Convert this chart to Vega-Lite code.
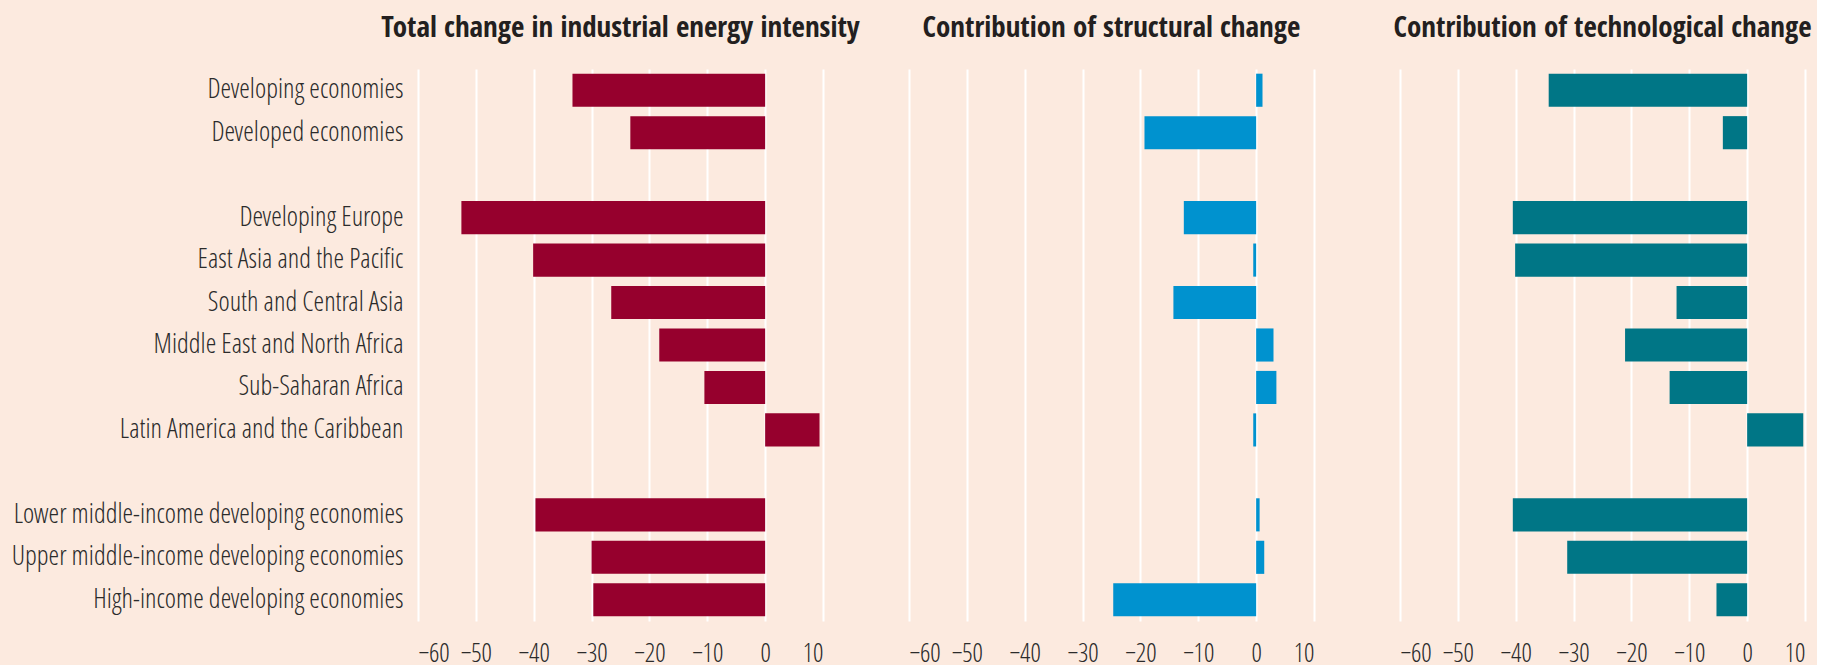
{
  "$schema": "https://vega.github.io/schema/vega-lite/v6.json",
  "background": "#FCEADF",
  "padding": {"left": 11, "top": 14, "right": 5, "bottom": 0},
  "bounds": "flush",
  "spacing": 86,
  "config": {
    "view": {"stroke": null},
    "title": {"font": "Open Sans Condensed", "fontSize": 29, "fontWeight": "bold", "color": "#231F20", "offset": 26, "anchor": "middle"},
    "axis": {
      "labelFont": "Open Sans Condensed Light", "labelFontWeight": 300, "labelColor": "#2B2B2B",
      "domain": false, "ticks": false, "title": null, "labelOverlap": false
    }
  },
  "data": {
    "values": [
      {"region": "Developing economies", "total": -33.3, "structural": 1.1, "technological": -34.3},
      {"region": "Developed economies", "total": -23.3, "structural": -19.3, "technological": -4.2},
      {"region": "Developing Europe", "total": -52.5, "structural": -12.5, "technological": -40.5},
      {"region": "East Asia and the Pacific", "total": -40.1, "structural": -0.5, "technological": -40.1},
      {"region": "South and Central Asia", "total": -26.6, "structural": -14.3, "technological": -12.2},
      {"region": "Middle East and North Africa", "total": -18.3, "structural": 3.0, "technological": -21.1},
      {"region": "Sub-Saharan Africa", "total": -10.5, "structural": 3.5, "technological": -13.4},
      {"region": "Latin America and the Caribbean", "total": 9.4, "structural": -0.5, "technological": 9.7},
      {"region": "Lower middle-income developing economies", "total": -39.7, "structural": 0.6, "technological": -40.5},
      {"region": "Upper middle-income developing economies", "total": -30.0, "structural": 1.4, "technological": -31.1},
      {"region": "High-income developing economies", "total": -29.7, "structural": -24.7, "technological": -5.3}
    ]
  },
  "hconcat": [
    {
      "title": "Total change in industrial energy intensity",
      "width": 405,
      "height": 552,
      "mark": {"type": "bar", "color": "#96002D"},
      "encoding": {
        "y": {
          "field": "region", "type": "nominal", "sort": null,
          "scale": {"domain": ["Developing economies", "Developed economies", " ", "Developing Europe", "East Asia and the Pacific", "South and Central Asia", "Middle East and North Africa", "Sub-Saharan Africa", "Latin America and the Caribbean", "  ", "Lower middle-income developing economies", "Upper middle-income developing economies", "High-income developing economies"], "paddingInner": 0.22, "paddingOuter": 0.11},
          "axis": {"labelFontSize": 27, "labelPadding": 15, "grid": false, "labelLimit": 600,
            "encode": {"labels": {"update": {"stroke": {"value": "#2B2B2B"}, "strokeWidth": {"value": 0.8}}}}}
        },
        "x": {
          "field": "total", "type": "quantitative",
          "scale": {"domain": [-60, 10], "nice": false},
          "axis": {"values": [-60, -50, -40, -30, -20, -10, 0, 10], "grid": true, "gridColor": "#FFFFFF", "gridWidth": 2, "gridOpacity": 1, "labelFontSize": 26, "labelPadding": 19,
            "encode": {"labels": {"update": {"stroke": {"value": "#2B2B2B"}, "strokeWidth": {"value": 0.8}}}}}
        }
      }
    },
    {
      "title": "Contribution of structural change",
      "width": 405,
      "height": 552,
      "mark": {"type": "bar", "color": "#0092CF"},
      "encoding": {
        "y": {
          "field": "region", "type": "nominal", "sort": null,
          "scale": {"domain": ["Developing economies", "Developed economies", " ", "Developing Europe", "East Asia and the Pacific", "South and Central Asia", "Middle East and North Africa", "Sub-Saharan Africa", "Latin America and the Caribbean", "  ", "Lower middle-income developing economies", "Upper middle-income developing economies", "High-income developing economies"], "paddingInner": 0.22, "paddingOuter": 0.11},
          "axis": null
        },
        "x": {
          "field": "structural", "type": "quantitative",
          "scale": {"domain": [-60, 10], "nice": false},
          "axis": {"values": [-60, -50, -40, -30, -20, -10, 0, 10], "grid": true, "gridColor": "#FFFFFF", "gridWidth": 2, "gridOpacity": 1, "labelFontSize": 26, "labelPadding": 19,
            "encode": {"labels": {"update": {"stroke": {"value": "#2B2B2B"}, "strokeWidth": {"value": 0.8}}}}}
        }
      }
    },
    {
      "title": "Contribution of technological change",
      "width": 405,
      "height": 552,
      "mark": {"type": "bar", "color": "#007686"},
      "encoding": {
        "y": {
          "field": "region", "type": "nominal", "sort": null,
          "scale": {"domain": ["Developing economies", "Developed economies", " ", "Developing Europe", "East Asia and the Pacific", "South and Central Asia", "Middle East and North Africa", "Sub-Saharan Africa", "Latin America and the Caribbean", "  ", "Lower middle-income developing economies", "Upper middle-income developing economies", "High-income developing economies"], "paddingInner": 0.22, "paddingOuter": 0.11},
          "axis": null
        },
        "x": {
          "field": "technological", "type": "quantitative",
          "scale": {"domain": [-60, 10], "nice": false},
          "axis": {"values": [-60, -50, -40, -30, -20, -10, 0, 10], "grid": true, "gridColor": "#FFFFFF", "gridWidth": 2, "gridOpacity": 1, "labelFontSize": 26, "labelPadding": 19,
            "encode": {"labels": {"update": {"stroke": {"value": "#2B2B2B"}, "strokeWidth": {"value": 0.8}}}}}
        }
      }
    }
  ]
}
